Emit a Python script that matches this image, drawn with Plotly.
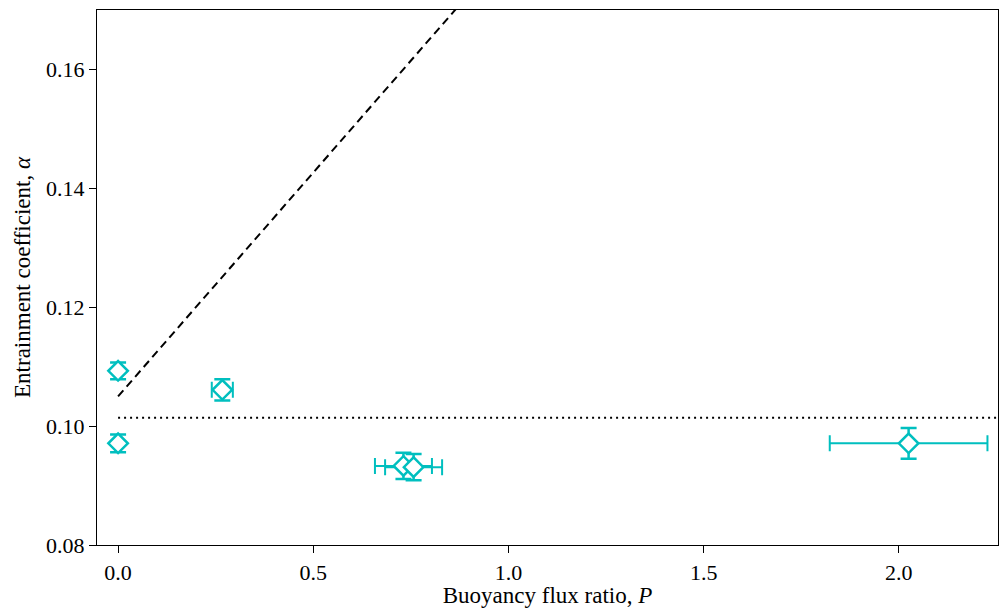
import plotly.graph_objects as go

# Data
P = [0.0, 0.0, 0.267, 0.731, 0.757, 2.025]
alpha = [0.1093, 0.0971, 0.1061, 0.0933, 0.0931, 0.0971]
P_err = [0.0, 0.0, 0.027, 0.073, 0.073, 0.202]
alpha_err = [0.0014, 0.0015, 0.0018, 0.0022, 0.0022, 0.0026]

dash_P = [0.0, 1.0]
dash_alpha = [0.105 + 0.0753 * p for p in dash_P]
dot_P = [0.0, 2.4]
dot_alpha = [0.1014, 0.1014]

cyan = "#00BFBF"
fnt = "Liberation Serif"

fig = go.Figure()
fig.add_trace(go.Scatter(x=dash_P, y=dash_alpha, mode="lines",
                         line=dict(color="black", width=2, dash="8px,5px"),
                         showlegend=False, hoverinfo="skip"))
fig.add_trace(go.Scatter(x=dot_P, y=dot_alpha, mode="lines",
                         line=dict(color="black", width=2, dash="2px,4px"),
                         showlegend=False, hoverinfo="skip"))
fig.add_trace(go.Scatter(
    x=P, y=alpha, mode="markers",
    marker=dict(symbol="diamond", size=15, color="white", line=dict(width=2.5, color=cyan)),
    error_x=dict(type="data", array=P_err, color=cyan, thickness=2, width=8),
    error_y=dict(type="data", array=alpha_err, color=cyan, thickness=2.5, width=8),
    showlegend=False,
))

axis_common = dict(showline=True, linecolor="black", linewidth=1.2, mirror=True,
                   ticks="outside", ticklen=7, tickwidth=1.2, tickcolor="black",
                   showgrid=False, zeroline=False,
                   tickfont=dict(family=fnt, size=22, color="black"))

fig.update_layout(
    width=1000, height=608,
    margin=dict(l=97, r=2, t=10, b=63),
    plot_bgcolor="white", paper_bgcolor="white",
    font=dict(family=fnt, size=22, color="black"),
    xaxis=dict(range=[-0.054, 2.254], tickvals=[0, 0.5, 1.0, 1.5, 2.0],
               ticktext=["0.0", "0.5", "1.0", "1.5", "2.0"],
               title=dict(text="Buoyancy flux ratio, <i>P</i>", font=dict(family=fnt, size=23), standoff=4),
               **axis_common),
    yaxis=dict(range=[0.08, 0.17], tickvals=[0.08, 0.10, 0.12, 0.14, 0.16],
               ticktext=["0.08", "0.10", "0.12", "0.14", "0.16"],
               title=dict(text="Entrainment coefficient, <i>α</i>", font=dict(family=fnt, size=23), standoff=8),
               **axis_common),
)

fig.write_html("out.html", config={"displayModeBar": False},
               post_script="document.body.style.margin='0';document.body.style.overflow='hidden';")
